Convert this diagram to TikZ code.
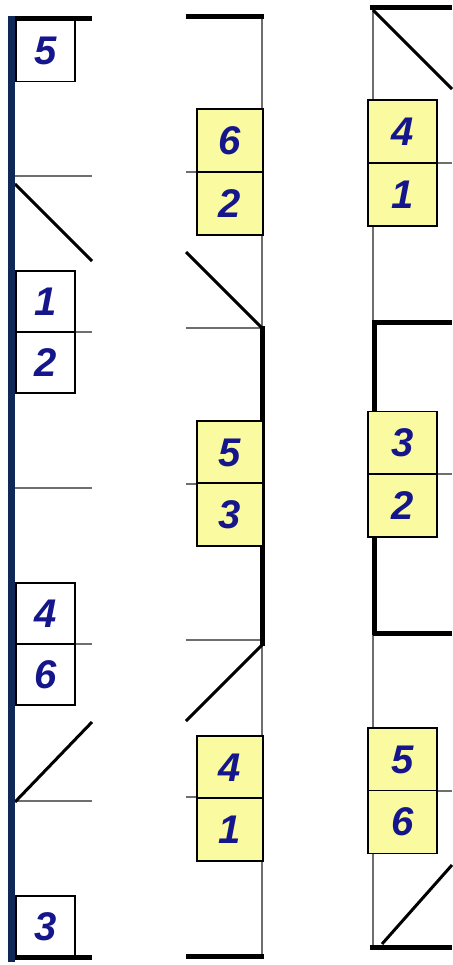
\documentclass[tikz,border=0pt]{standalone}
\usepackage{fontspec}
\setmainfont{Liberation Sans}
\definecolor{navyline}{RGB}{16,40,88}
\definecolor{digitblue}{RGB}{22,22,140}
\definecolor{cellyellow}{RGB}{250,250,160}
\definecolor{gridgray}{RGB}{110,110,110}
\tikzset{
  gridline/.style={draw=gridgray,line width=1.2pt},
  wall/.style={draw=black,line width=5pt},
  diag/.style={draw=black,line width=3pt},
  cell/.style={draw=black,line width=1.6pt,inner sep=0pt,outer sep=0pt,
    text=digitblue,font=\fontsize{40}{40}\selectfont\bfseries\itshape},
  cellW/.style={cell,fill=white,minimum width=59pt,minimum height=61pt},
  cellY2/.style={cell,fill=cellyellow,minimum width=66pt,minimum height=63pt},
  cellY3/.style={cell,fill=cellyellow,minimum width=69pt,minimum height=63pt},
}
\begin{document}
\begin{tikzpicture}[x=1pt,y=-1pt]
\useasboundingbox (0,0) rectangle (452,965);
% ---------- column 1 ----------
\foreach \yy in {176,332,488,644,801} \draw[gridline] (11,\yy) -- (92,\yy);
\draw[diag] (15,184) -- (92,261);
\draw[diag] (15,802) -- (92,722);
\node[cellW] (c1a) at (45.5,51) {5};
\node[cellW] (c1b) at (45.5,301.5) {1};
\node[cellW] (c1c) at (45.5,362.5) {2};
\node[cellW] (c1d) at (45.5,613.5) {4};
\node[cellW] (c1e) at (45.5,674.5) {6};
\node[cellW] (c1f) at (45.5,926.5) {3};
\draw[wall] (9,19) -- (92,19);
\draw[wall] (9,957) -- (92,957);
\draw[draw=navyline,line width=7pt] (11,16) -- (11,962);
% ---------- column 2 ----------
\draw[gridline] (262,15) -- (262,958);
\foreach \yy in {172,328,484,640,797} \draw[gridline] (186,\yy) -- (262,\yy);
\draw[diag] (186,252) -- (262,328);
\draw[diag] (262,645) -- (186,721);
\draw[wall] (262,326) -- (262,646);
\node[cellY2] (c2a) at (230,140.5) {6};
\node[cellY2] (c2b) at (230,203.5) {2};
\node[cellY2] (c2c) at (230,452.5) {5};
\node[cellY2] (c2d) at (230,514.5) {3};
\node[cellY2] (c2e) at (230,767.5) {4};
\node[cellY2] (c2f) at (230,829.5) {1};
\draw[wall] (186,17) -- (264,17);
\draw[wall] (186,956) -- (264,956);
% ---------- column 3 ----------
\draw[gridline] (373,8) -- (373,947);
\foreach \yy in {163,474,791} \draw[gridline] (373,\yy) -- (452,\yy);
\draw[diag] (373,10) -- (452,89);
\draw[diag] (382,944) -- (452,865);
\draw[wall] (373,322) -- (452,322);
\draw[wall] (373,633) -- (452,633);
\draw[wall] (374,320) -- (374,635);
\node[cellY3] (c3a) at (402.5,131.5) {4};
\node[cellY3] (c3b) at (402.5,194.5) {1};
\node[cellY3] (c3c) at (402.5,443) {3};
\node[cellY3] (c3d) at (402.5,505.5) {2};
\node[cellY3] (c3e) at (402.5,759.5) {5};
\node[cellY3] (c3f) at (402.5,822) {6};
\draw[wall] (370,8) -- (452,8);
\draw[wall] (370,947) -- (452,947);
\end{tikzpicture}
\end{document}
